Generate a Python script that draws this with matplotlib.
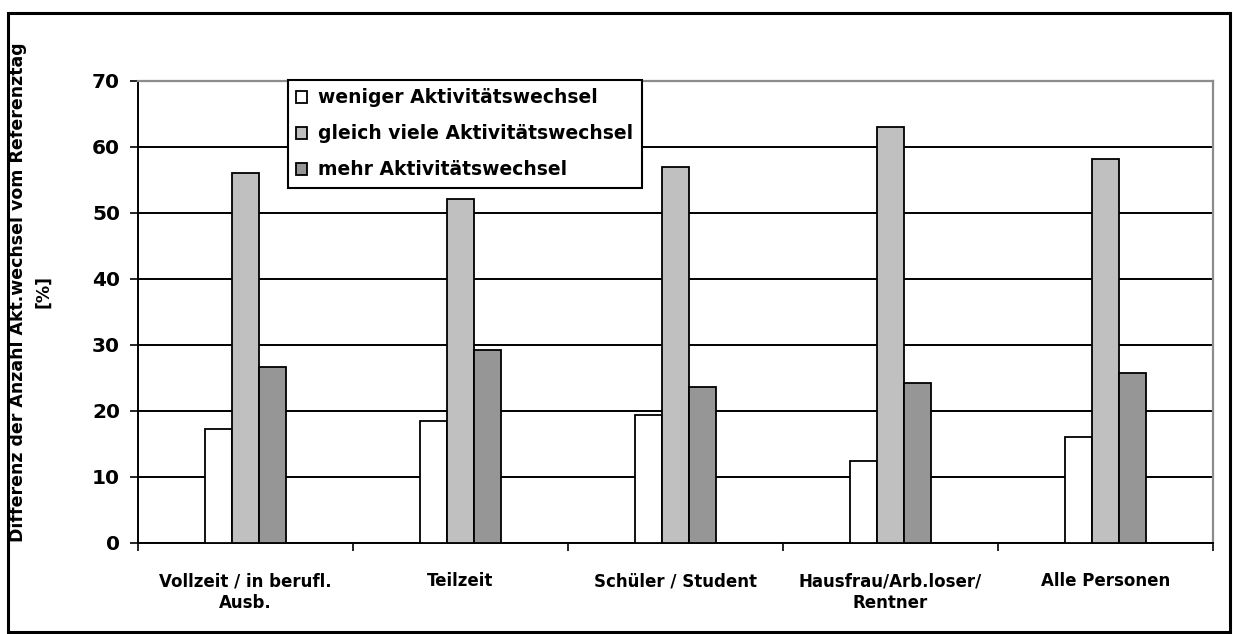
import numpy as np
import matplotlib.pyplot as plt
from matplotlib.patches import Rectangle

plt.rcParams["font.family"] = ["DejaVu Sans"]
plt.rcParams["font.weight"] = "bold"

CATEGORIES = ["Vollzeit / in berufl.\nAusb.", "Teilzeit", "Schüler / Student",
              "Hausfrau/Arb.loser/\nRentner", "Alle Personen"]
SERIES = ["weniger Aktivitätswechsel", "gleich viele Aktivitätswechsel", "mehr Aktivitätswechsel"]
WENIGER = [17.3, 18.5, 19.4, 12.5, 16.0]
GLEICH = [56.0, 52.1, 56.9, 63.1, 58.2]
MEHR = [26.6, 29.3, 23.6, 24.3, 25.7]
COLORS = ["#FFFFFF", "#C0C0C0", "#969696"]

W, H = 1233, 634
fig = plt.figure(figsize=(W / 100, H / 100), dpi=100)
ax = fig.add_axes([138 / W, 1 - 543 / H, (1213 - 138) / W, (543 - 81) / H])

x = np.arange(len(CATEGORIES))
bw = 0.125
for i, (vals, name, col) in enumerate(zip([WENIGER, GLEICH, MEHR], SERIES, COLORS)):
    ax.bar(x + (i - 1) * bw, vals, bw, color=col, edgecolor="black",
           linewidth=1.3, label=name, zorder=3)

ax.set_xlim(-0.5, len(CATEGORIES) - 0.5)
ax.set_ylim(0, 70)
ax.set_yticks(range(0, 71, 10))
ax.yaxis.grid(True, color="black", linewidth=1.4, zorder=0)
ax.set_axisbelow(True)
ax.tick_params(axis="y", direction="out", length=6, width=1.2, labelsize=14.5, pad=7)

# category boundaries as ticks, names centred between them
ax.set_xticks(np.arange(-0.5, len(CATEGORIES), 1.0))
ax.set_xticklabels([])
ax.set_xticks(x, minor=True)
ax.set_xticklabels(CATEGORIES, minor=True, fontsize=12, fontweight="bold",
                   linespacing=1.3)
ax.tick_params(axis="x", which="major", direction="out", length=6, width=1.2)
ax.tick_params(axis="x", which="minor", length=0, pad=21)

for s in ["left", "bottom"]:
    ax.spines[s].set_color("black")
    ax.spines[s].set_linewidth(1.4)
for s in ["top", "right"]:
    ax.spines[s].set_color("#8C8C8C")
    ax.spines[s].set_linewidth(1.6)

leg = ax.legend(loc="upper left", bbox_to_anchor=(288 / W, 1 - 80 / H),
                bbox_transform=fig.transFigure, fontsize=13.5, frameon=True,
                fancybox=False, edgecolor="black", handlelength=0.55,
                handleheight=0.6, handletextpad=0.6, borderpad=0.45,
                labelspacing=0.9, borderaxespad=0, framealpha=1)
leg.get_frame().set_linewidth(1.5)
leg.set_zorder(5)
for t in leg.get_texts():
    t.set_fontweight("bold")

fig.text(18 / W, 1 - 292 / H, "Differenz der Anzahl Akt.wechsel vom Referenztag",
         rotation=90, ha="center", va="center", fontsize=12.5, fontweight="bold")
fig.text(43 / W, 1 - 292 / H, "[%]", rotation=90, ha="center", va="center",
         fontsize=12.5, fontweight="bold")

fig.patches.append(Rectangle((8 / W, 1 - 632 / H), (1230 - 8) / W, (632 - 13) / H,
                             transform=fig.transFigure, fill=False,
                             edgecolor="black", linewidth=2.2))

fig.savefig("out.png", dpi=100)
